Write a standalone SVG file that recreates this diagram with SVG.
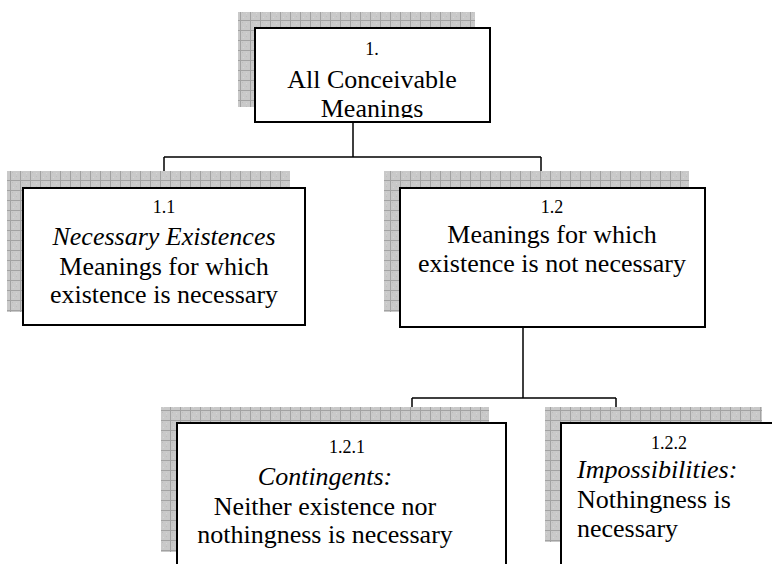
<svg xmlns="http://www.w3.org/2000/svg" width="772" height="564" viewBox="0 0 772 564">
<defs>
<pattern id="grid" width="10" height="10" patternUnits="userSpaceOnUse">
<rect width="10" height="10" fill="#c9c9c9"/>
<rect x="2" y="2" width="1" height="1" fill="#bdbdbd"/>
<rect x="6" y="6" width="1" height="1" fill="#bdbdbd"/>
<rect x="6" y="3" width="1" height="1" fill="#d6d6d6"/>
<rect x="3" y="7" width="1" height="1" fill="#d6d6d6"/>
<path d="M0 0.5H10M0.5 0V10" stroke="#a2a2a2" stroke-width="1"/>
</pattern>
<clipPath id="clipTop"><rect x="256" y="29" width="233" height="89"/></clipPath>
</defs>
<style>
.shadow{fill:url(#grid);}
.box{fill:#fff;stroke:#000;stroke-width:2;}
text{font-family:'Liberation Serif',Tinos,'DejaVu Serif',serif;font-size:26px;fill:#000;text-anchor:middle;}
.n{font-size:18px;}
.i{font-style:italic;}
.l{text-anchor:start;}
.c{fill:none;stroke:#000;stroke-width:1.5;}
</style>
<g id="connectors">
<path class="c" d="M353 122V157M164 157H541M164 157V188M541 157V188"/>
<path class="c" d="M523 327V398M412 398H616M412 398V423M616 398V423"/>
</g>
<g id="node-1">
<rect class="shadow" x="238" y="12" width="237" height="95"/>
<rect class="box" x="255" y="28" width="235" height="94"/>
<g clip-path="url(#clipTop)">
<text class="n" x="372" y="55">1.</text>
<text x="372" y="88">All Conceivable</text>
<text x="372" y="117">Meanings</text>
</g>
</g>
<g id="node-1-1">
<rect class="shadow" x="7" y="171" width="283" height="141"/>
<rect class="box" x="23" y="188" width="282" height="137"/>
<text class="n" x="164" y="213">1.1</text>
<text class="i" x="164" y="245">Necessary Existences</text>
<text x="164" y="275">Meanings for which</text>
<text x="164" y="303">existence is necessary</text>
</g>
<g id="node-1-2">
<rect class="shadow" x="384" y="171" width="305" height="141"/>
<rect class="box" x="400" y="188" width="305" height="139"/>
<text class="n" x="552" y="213">1.2</text>
<text x="552" y="243">Meanings for which</text>
<text x="552" y="272">existence is not necessary</text>
</g>
<g id="node-1-2-1">
<rect class="shadow" x="161" y="407" width="328" height="145"/>
<rect class="box" x="177" y="423" width="329" height="150"/>
<text class="n" x="347" y="453">1.2.1</text>
<text class="i" x="325" y="485">Contingents:</text>
<text x="325" y="515">Neither existence nor</text>
<text x="325" y="543">nothingness is necessary</text>
</g>
<g id="node-1-2-2">
<rect class="shadow" x="545" y="407" width="217" height="135"/>
<rect class="box" x="561" y="423" width="220" height="150"/>
<text class="n" x="669" y="449">1.2.2</text>
<text class="i l" x="577" y="478">Impossibilities:</text>
<text class="l" x="577" y="508">Nothingness is</text>
<text class="l" x="577" y="537">necessary</text>
</g>
</svg>
